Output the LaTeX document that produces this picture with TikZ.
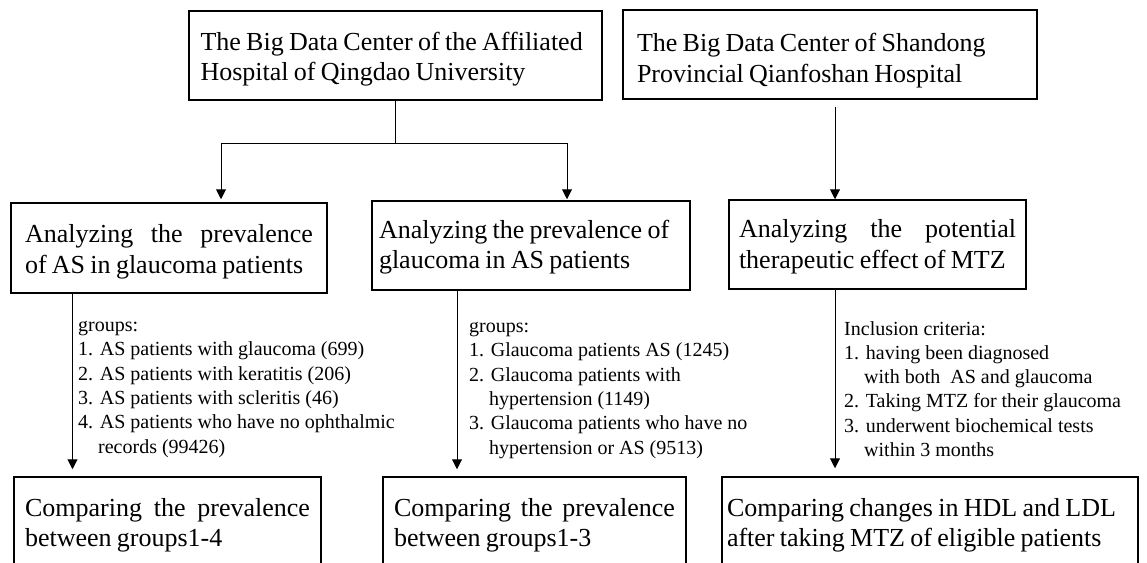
\documentclass[tikz,border=0pt]{standalone}
\usepackage{fontspec}
\setmainfont{Liberation Serif}
\usetikzlibrary{arrows.meta}
\hyphenpenalty=10000

\tikzset{
  box/.style={draw, line width=1.5pt, inner ysep=0pt, align=left,
    font=\fontsize{26}{30.5}\selectfont},
  drop/.style={execute at begin node={\spaceskip=5.3pt plus 3pt minus 1pt\relax\noindent\vrule width 0pt height #1\relax}},
  lbl/.style={inner sep=0pt, align=left, anchor=base west,
    font=\fontsize{20}{24.3}\selectfont},
  arr/.style={line width=1pt, -{Triangle[width=10pt,length=10pt]}}
}
\newcommand{\spreadline}[1]{\noindent\makebox[\hsize][s]{#1}}

\begin{document}
\begin{tikzpicture}[x=1pt,y=-1pt]
\useasboundingbox (0,0) rectangle (1147,562);

% top row
\node[box, drop=25.8pt, text width=390pt, inner xsep=11.5pt, minimum height=89pt] (qd) at (395.5,55.5)
  {The Big Data Center of the Affiliated\\Hospital of Qingdao University};
\node[box, drop=30.8pt, text width=386pt, inner xsep=14pt, minimum height=89pt] (sd) at (830,54.5)
  {The Big Data Center of Shandong\\Provincial Qianfoshan Hospital};

% middle row
\node[box, drop=25.8pt, text width=288pt, inner xsep=14pt, minimum height=90pt] (prevAS) at (169,248)
  {\spreadline{Analyzing the prevalence}\\of AS in glaucoma patients};
\node[box, drop=21.8pt, text width=304pt, inner xsep=7pt, minimum height=89pt] (prevGl) at (531,245.5)
  {Analyzing the prevalence of\\glaucoma in AS patients};
\node[box, drop=22.8pt, text width=277pt, inner xsep=10pt, minimum height=89pt] (mtz) at (877.5,244.5)
  {\spreadline{Analyzing the potential}\\therapeutic effect of MTZ};

% bottom row
\node[box, drop=22.8pt, text width=285pt, inner xsep=11pt, minimum height=92pt] (cmpA) at (167.5,523)
  {\spreadline{Comparing the prevalence}\\between groups1-4};
\node[box, drop=22.8pt, text width=281pt, inner xsep=11pt, minimum height=92pt] (cmpB) at (534.5,523)
  {\spreadline{Comparing the prevalence}\\between groups1-3};
\node[box, drop=22.8pt, text width=406pt, inner xsep=5pt, minimum height=92pt] (cmpC) at (930,523)
  {Comparing changes in HDL and LDL\\after taking MTZ of eligible patients};

% labels on the arrows
\node[lbl] (grpA) at (78,453) {groups:\\1. AS patients with glaucoma (699)\\2. AS patients with keratitis (206)\\3. AS patients with scleritis (46)\\4. AS patients who have no ophthalmic\\\phantom{4.~}records (99426)};
\node[lbl] (grpB) at (469,454) {groups:\\1. Glaucoma patients AS (1245)\\2. Glaucoma patients with\\\phantom{2.~}hypertension (1149)\\3. Glaucoma patients who have no\\\phantom{3.~}hypertension or AS (9513)};
\node[lbl] (critC) at (844,456.5) {Inclusion criteria:\\1. having been diagnosed\\\phantom{1.~}with both~ AS and glaucoma\\2. Taking MTZ for their glaucoma\\3. underwent biochemical tests\\\phantom{3.~}within 3 months};

% connectors
\coordinate (jl) at (221,143);
\coordinate (jr) at (567,143);
\coordinate (ax) at (72.5,0);
\coordinate (bx) at (457,0);
\coordinate (mx) at (835,0);

\draw[arr] (qd.south) |- (jl) -- ([yshift=3pt]jl |- prevAS.north);
\draw[arr] (qd.south) |- (jr) -- ([yshift=1pt]jr |- prevGl.north);
\draw[arr] ([yshift=-7pt]mx |- sd.south) -- (mx |- mtz.north);

\draw[arr] (ax |- prevAS.south) -- ([yshift=7pt]ax |- cmpA.north);
\draw[arr] (bx |- prevGl.south) -- ([yshift=7pt]bx |- cmpB.north);
\draw[arr] (mx |- mtz.south) -- ([yshift=8pt]mx |- cmpC.north);

\end{tikzpicture}
\end{document}
